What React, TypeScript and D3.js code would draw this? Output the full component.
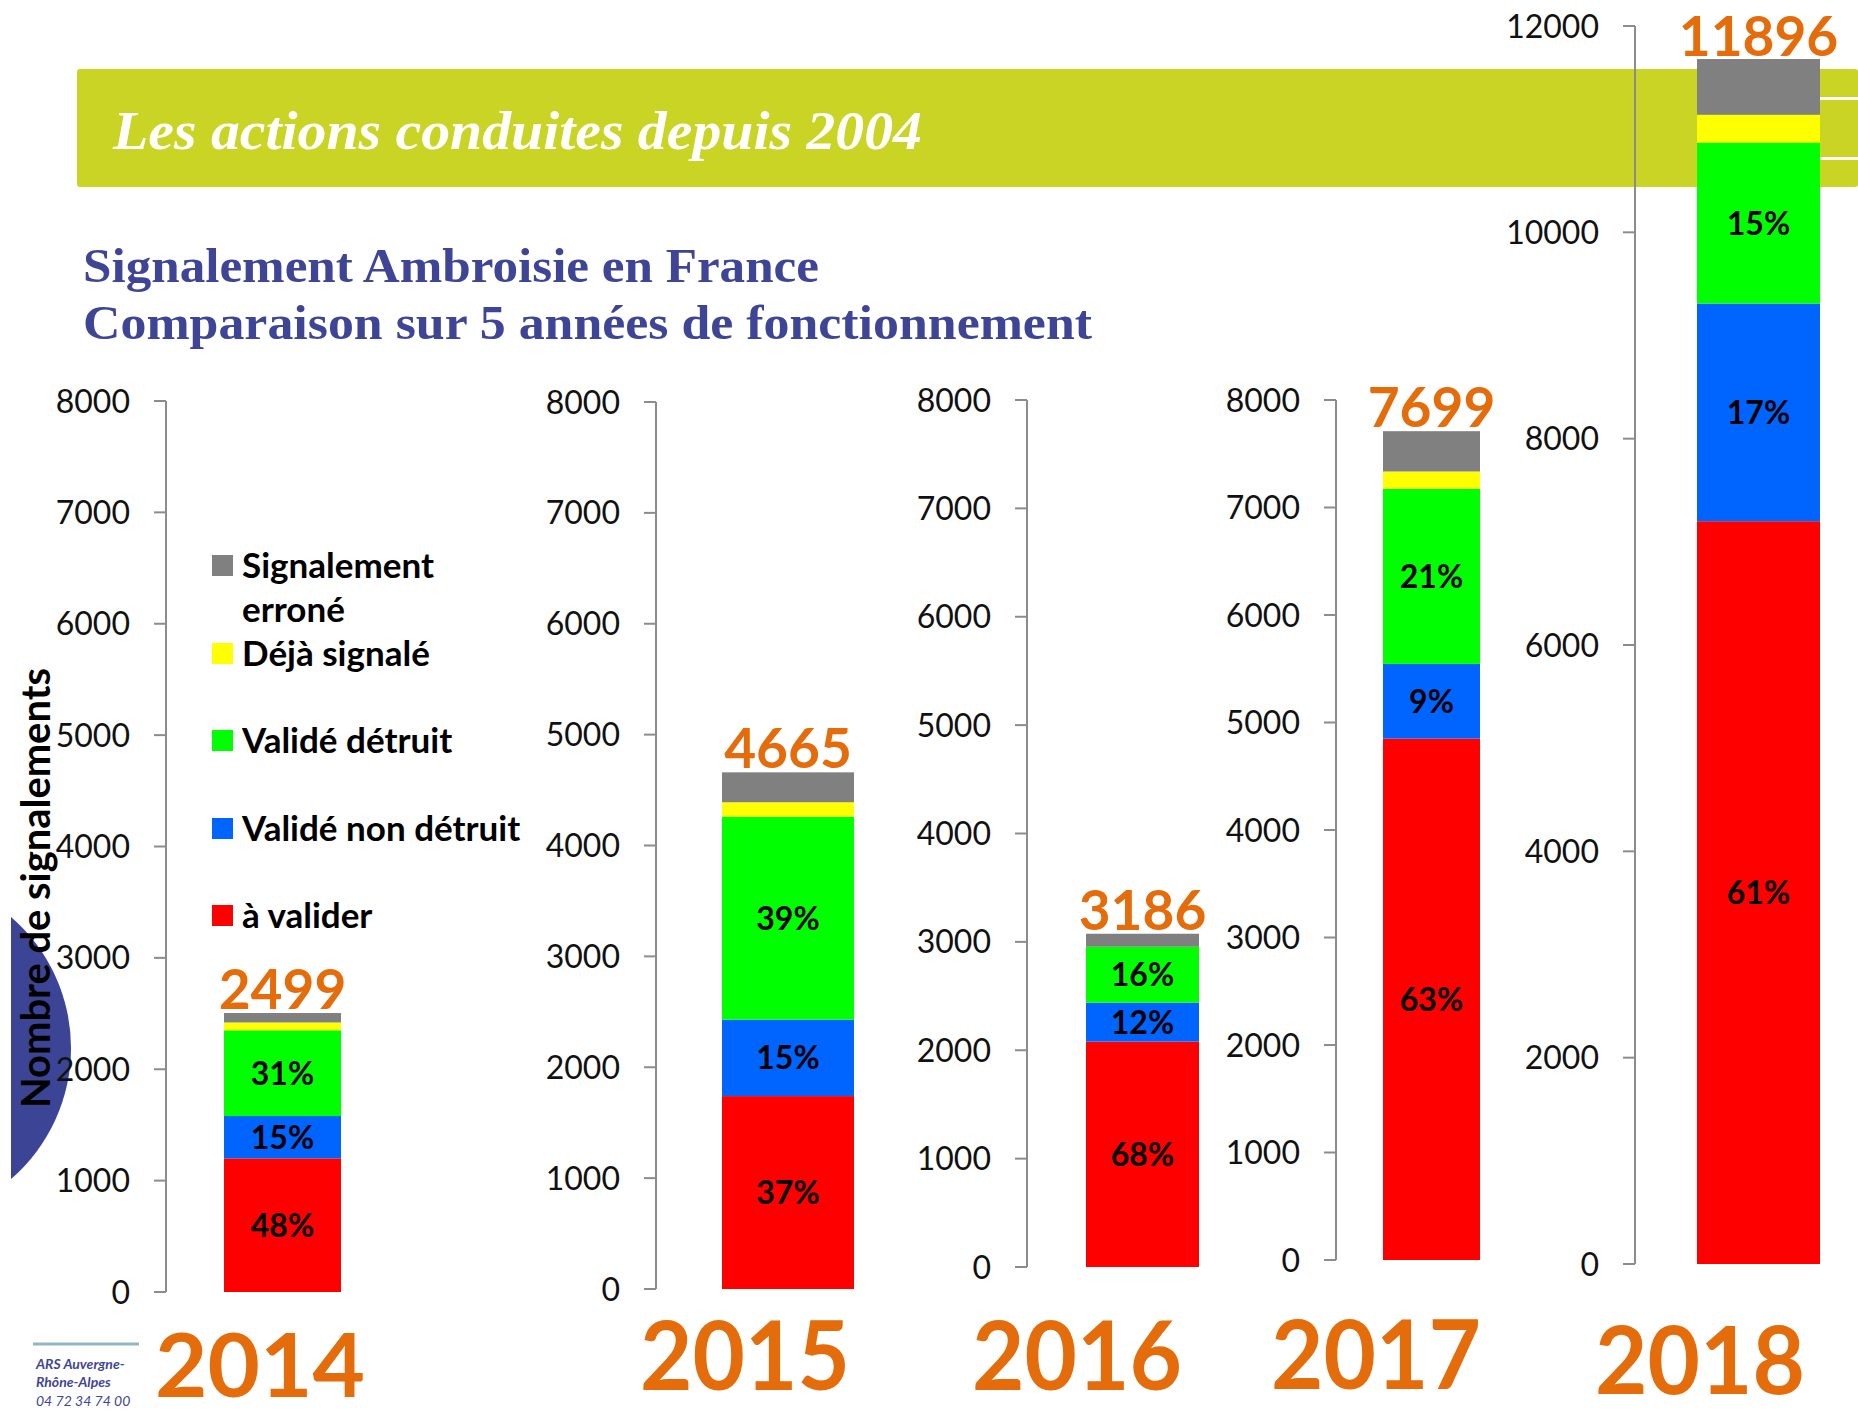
import React from 'react';
import * as d3 from 'd3';

// Chart values
const years = ['2014', '2015', '2016', '2017', '2018'];
const totals = [2499, 4665, 3186, 7699, 11896];
const axisMax = [8000, 8000, 8000, 8000, 12000];
const axisTickCount = [8, 8, 8, 8, 6];

const aValider = [1200, 1740, 2080, 4850, 7200];
const valideNonDetruit = [380, 690, 360, 695, 2110];
const valideDetruit = [770, 1830, 515, 1630, 1560];
const dejaSignale = [70, 130, 0, 160, 270];
const signalementErrone = [85, 270, 120, 375, 540];

const pctAValider = ['48%', '37%', '68%', '63%', '61%'];
const pctNonDetruit = ['15%', '15%', '12%', '9%', '17%'];
const pctDetruit = ['31%', '39%', '16%', '21%', '15%'];

const seriesKeys = ['aValider', 'nonDetruit', 'detruit', 'deja', 'errone'];
const seriesColors = ['#FF0000', '#0064FF', '#00FF00', '#FFFF00', '#808080'];
const legendLabels = [
  ['Signalement', 'erroné'],
  ['Déjà signalé'],
  ['Validé détruit'],
  ['Validé non détruit'],
  ['à valider'],
];
const legendColors = ['#808080', '#FFFF00', '#00FF00', '#0064FF', '#FF0000'];

// panel geometry (pixels)
const panels = [
  { axisX: 166, top: 401, bottom: 1292, barL: 224, barR: 341, yearX: 260, yearY: 1397, yearSize: 88 },
  { axisX: 656, top: 402, bottom: 1289, barL: 722, barR: 854, yearX: 745, yearY: 1390, yearSize: 96 },
  { axisX: 1027, top: 400, bottom: 1267, barL: 1086, barR: 1199, yearX: 1077, yearY: 1390, yearSize: 96 },
  { axisX: 1336, top: 400, bottom: 1260, barL: 1383, barR: 1480, yearX: 1376, yearY: 1389, yearSize: 96 },
  { axisX: 1635, top: 26, bottom: 1264, barL: 1697, barR: 1820, yearX: 1700, yearY: 1394, yearSize: 94 },
];

const ORANGE = '#E46C0A';
const NAVY = '#3F4596';
const SANS = 'Lato, "Open Sans", sans-serif';
const SERIF = '"Liberation Serif", "DejaVu Serif", serif';

const rows = years.map((y, i) => ({
  year: y,
  aValider: aValider[i],
  nonDetruit: valideNonDetruit[i],
  detruit: valideDetruit[i],
  deja: dejaSignale[i],
  errone: signalementErrone[i],
}));

const stacked = d3.stack<any>().keys(seriesKeys)(rows);

const Panel = ({ i }: { i: number }) => {
  const p = panels[i];
  const y = d3.scaleLinear().domain([0, axisMax[i]]).range([p.bottom, p.top]);
  const ticks = y.ticks(axisTickCount[i]);
  const cx = (p.barL + p.barR) / 2;
  const pctLabels = [pctAValider[i], pctNonDetruit[i], pctDetruit[i]];
  const barTop = y(stacked[stacked.length - 1][i][1]);
  return (
    <g>
      <line x1={p.axisX} x2={p.axisX} y1={y(axisMax[i])} y2={y(0)} stroke="#8C8C8C" strokeWidth={2} />
      {ticks.map((t) => (
        <g key={t}>
          <line x1={p.axisX - 12} x2={p.axisX} y1={y(t)} y2={y(t)} stroke="#8C8C8C" strokeWidth={2} />
          <text x={p.axisX - 36} y={y(t)} dy="0.36em" textAnchor="end" fontFamily={SANS} fontSize={32} fill="#111">
            {t}
          </text>
        </g>
      ))}
      {stacked.map((s, k) => (
        <rect
          key={k}
          x={p.barL}
          width={p.barR - p.barL}
          y={y(s[i][1])}
          height={Math.max(0, y(s[i][0]) - y(s[i][1]))}
          fill={seriesColors[k]}
        />
      ))}
      {pctLabels.map((lab, k) => (
        <text
          key={k}
          x={cx}
          y={(y(stacked[k][i][0]) + y(stacked[k][i][1])) / 2}
          dy="0.36em"
          textAnchor="middle"
          fontFamily={SANS}
          fontWeight="bold"
          fontSize={32}
          fill="#000"
        >
          {lab}
        </text>
      ))}
      <text
        x={cx}
        y={Math.max(barTop - 4, 56)}
        textAnchor="middle"
        fontFamily={SANS}
        fontWeight="bold"
        fontSize={55}
        fill={ORANGE}
      >
        {totals[i]}
      </text>
      <text
        x={p.yearX}
        y={p.yearY}
        textAnchor="middle"
        fontFamily={SANS}
        fontWeight="bold"
        fontSize={p.yearSize}
        fill={ORANGE}
        textLength={210}
        lengthAdjust="spacingAndGlyphs"
      >
        {years[i]}
      </text>
    </g>
  );
};

export default function App() {
  const legendY = [565, 653, 740, 828, 915];
  return (
    <svg width={1858} height={1417} style={{ position: 'absolute', left: 0, top: 0, background: '#fff' }}>
      {/* banner */}
      <rect x={77} y={69} width={1781} height={118} rx={3} fill="#C9D424" />
      <rect x={1820} y={97} width={38} height={3} fill="#fff" />
      <rect x={1820} y={157} width={38} height={3} fill="#fff" />
      <text
        x={113}
        y={149}
        fontFamily={SERIF}
        fontStyle="italic"
        fontWeight="bold"
        fontSize={54}
        fill="#fff"
        textLength={809}
        lengthAdjust="spacingAndGlyphs"
      >
        Les actions conduites depuis 2004
      </text>
      <text x={83} y={282} fontFamily={SERIF} fontWeight="bold" fontSize={48} fill={NAVY} textLength={736} lengthAdjust="spacingAndGlyphs">
        Signalement Ambroisie en France
      </text>
      <text x={83} y={339} fontFamily={SERIF} fontWeight="bold" fontSize={48} fill={NAVY} textLength={1009} lengthAdjust="spacingAndGlyphs">
        Comparaison sur 5 années de fonctionnement
      </text>

      {/* blue side shape */}
      <path d="M11,917 A173,173 0 0 1 11,1179 Z" fill="#3C4595" />

      {panels.map((_, i) => (
        <Panel key={i} i={i} />
      ))}

      {/* y axis title */}
      <text
        transform="translate(50,888) rotate(-90)"
        textAnchor="middle"
        fontFamily={SANS}
        fontWeight="bold"
        fontSize={40}
        fill="#000"
        textLength={440}
        lengthAdjust="spacingAndGlyphs"
      >
        Nombre de signalements
      </text>

      {/* legend */}
      {legendLabels.map((lines, k) => (
        <g key={k}>
          <rect x={212} y={legendY[k] - 10} width={21} height={21} fill={legendColors[k]} />
          {lines.map((ln, j) => (
            <text key={j} x={242} y={legendY[k] + j * 44} dy="0.36em" fontFamily={SANS} fontWeight="bold" fontSize={35} fill="#000">
              {ln}
            </text>
          ))}
        </g>
      ))}

      {/* footer */}
      <line x1={33} x2={139} y1={1344} y2={1344} stroke="#8FB8C0" strokeWidth={3} />
      <text x={36} y={1369} fontFamily={SANS} fontStyle="italic" fontWeight="bold" fontSize={14} fill={NAVY}>
        ARS Auvergne-
      </text>
      <text x={36} y={1387} fontFamily={SANS} fontStyle="italic" fontWeight="bold" fontSize={14} fill={NAVY}>
        Rhône-Alpes
      </text>
      <text x={36} y={1406} fontFamily={SANS} fontStyle="italic" fontSize={14} fill={NAVY}>
        04 72 34 74 00
      </text>
    </svg>
  );
}
